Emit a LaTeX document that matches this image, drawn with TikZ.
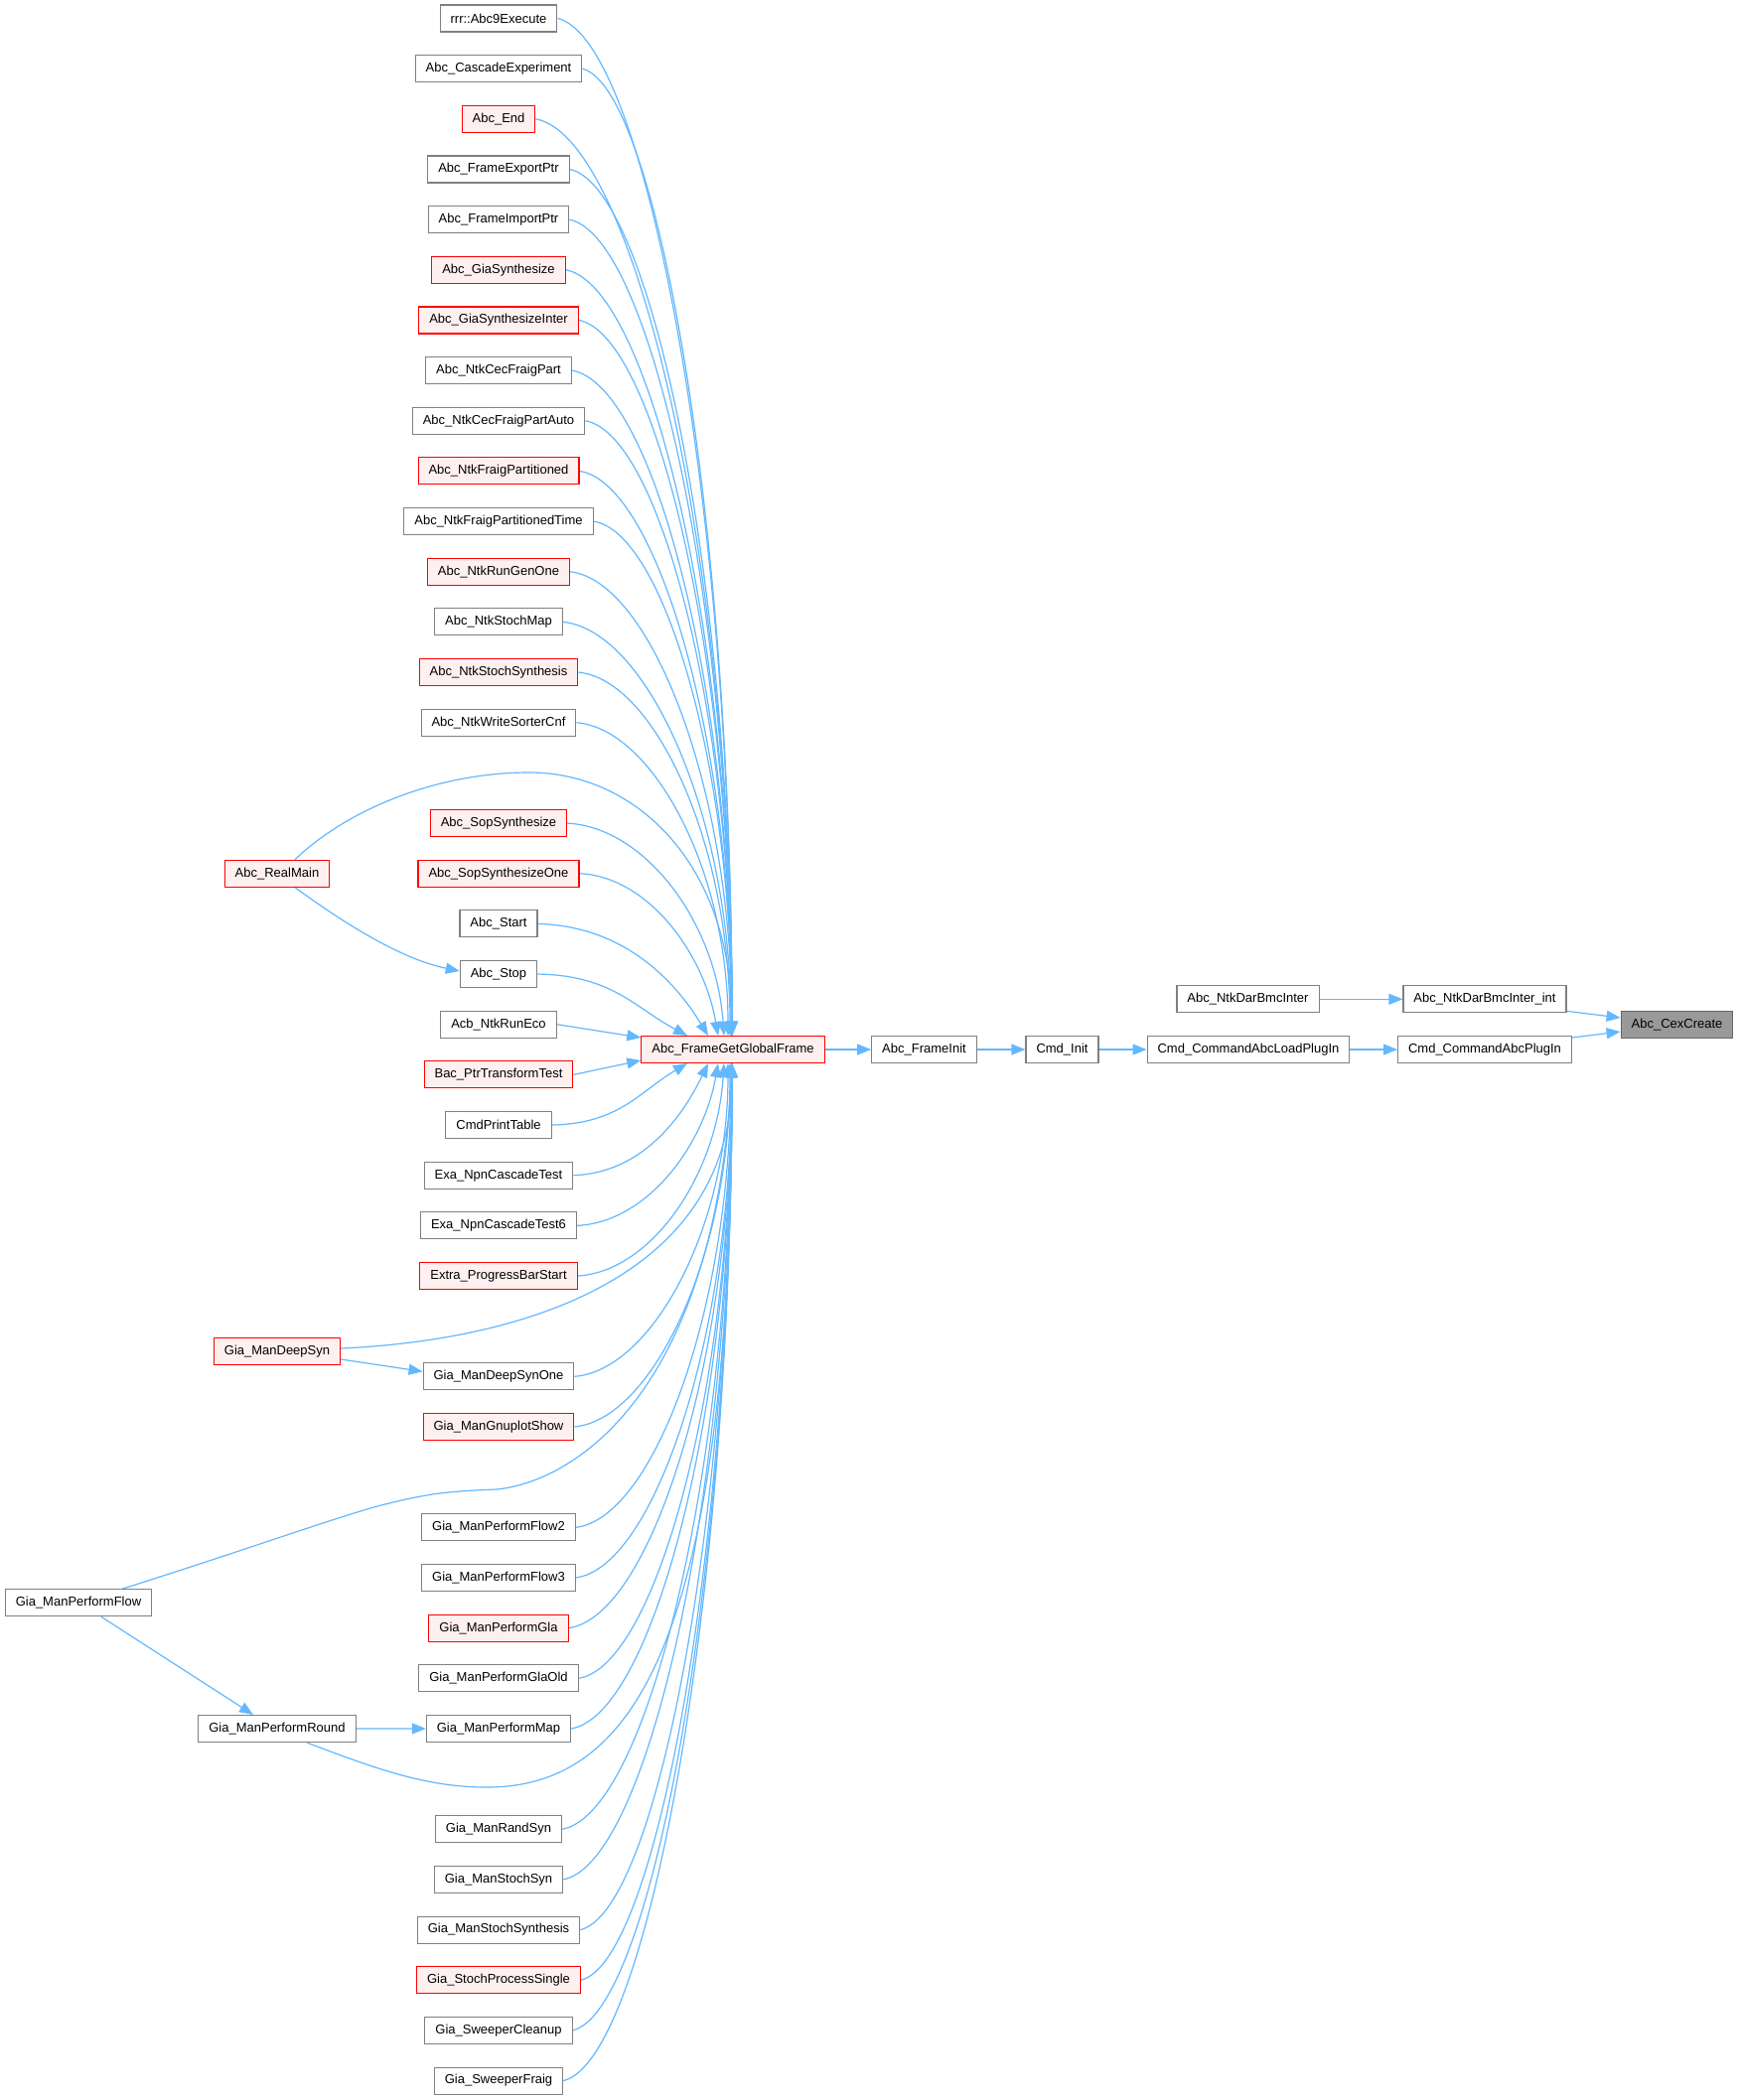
\documentclass[tikz,border=0pt]{standalone}
\usepackage{fontspec}
\setmainfont{Liberation Sans}
\usetikzlibrary{arrows.meta,calc}
\pgfdeclarelayer{bg}
\pgfdeclarelayer{edges}
\pgfsetlayers{bg,edges,main}
\definecolor{edgeblue}{HTML}{63B8FF}
\definecolor{nodegray}{HTML}{808080}
\definecolor{redfill}{HTML}{FFF0F0}
\definecolor{rootfill}{HTML}{999999}
\definecolor{rootdraw}{HTML}{666666}
\tikzset{
 base/.style={rectangle, font=\fontsize{13}{15}\selectfont, inner xsep=10.5pt, inner ysep=0pt, minimum height=27pt, line width=1.1pt},
 gbox/.style={base, draw=nodegray, fill=white},
 rbox/.style={base, draw=red, fill=redfill},
 rootbox/.style={base, draw=rootdraw, fill=rootfill},
 edge/.style={draw=edgeblue, line width=1.2pt, -{Triangle[length=14pt,width=11pt]}}
}
\begin{document}
\begin{tikzpicture}[x=1pt,y=-1pt]
\begin{pgfonlayer}{bg}
\fill[white] (0,0) rectangle (1751,2115);
\end{pgfonlayer}
\useasboundingbox (0,0) rectangle (1751,2115);

\node[rbox] (C) at (738,1057) {Abc\_FrameGetGlobalFrame};
\node[gbox] (FI) at (930.5,1057) {Abc\_FrameInit};
\node[gbox] (CI) at (1069.5,1057) {Cmd\_Init};
\node[gbox] (LP) at (1257,1057) {Cmd\_CommandAbcLoadPlugIn};
\node[gbox] (PI) at (1495,1057) {Cmd\_CommandAbcPlugIn};
\node[gbox] (BI) at (1256.5,1006.3) {Abc\_NtkDarBmcInter};
\node[gbox] (BII) at (1495,1006.3) {Abc\_NtkDarBmcInter\_int};
\node[rootbox] (CX) at (1688.5,1032) {Abc\_CexCreate};
\node[rbox] (RM) at (279,879.7) {Abc\_RealMain};
\node[rbox] (DS) at (279,1361) {Gia\_ManDeepSyn};
\node[gbox] (PF) at (79,1614.3) {Gia\_ManPerformFlow};
\node[gbox] (PR) at (279,1741) {Gia\_ManPerformRound};

\foreach \i/\lbl/\sty in {
0/rrr::Abc9Execute/gbox,
1/Abc\_CascadeExperiment/gbox,
2/Abc\_End/rbox,
3/Abc\_FrameExportPtr/gbox,
4/Abc\_FrameImportPtr/gbox,
5/Abc\_GiaSynthesize/rbox,
6/Abc\_GiaSynthesizeInter/rbox,
7/Abc\_NtkCecFraigPart/gbox,
8/Abc\_NtkCecFraigPartAuto/gbox,
9/Abc\_NtkFraigPartitioned/rbox,
10/Abc\_NtkFraigPartitionedTime/gbox,
11/Abc\_NtkRunGenOne/rbox,
12/Abc\_NtkStochMap/gbox,
13/Abc\_NtkStochSynthesis/rbox,
14/Abc\_NtkWriteSorterCnf/gbox,
16/Abc\_SopSynthesize/rbox,
17/Abc\_SopSynthesizeOne/rbox,
18/Abc\_Start/gbox,
19/Abc\_Stop/gbox,
20/Acb\_NtkRunEco/gbox,
21/Bac\_PtrTransformTest/rbox,
22/CmdPrintTable/gbox,
23/Exa\_NpnCascadeTest/gbox,
24/Exa\_NpnCascadeTest6/gbox,
25/Extra\_ProgressBarStart/rbox,
27/Gia\_ManDeepSynOne/gbox,
28/Gia\_ManGnuplotShow/rbox,
30/Gia\_ManPerformFlow2/gbox,
31/Gia\_ManPerformFlow3/gbox,
32/Gia\_ManPerformGla/rbox,
33/Gia\_ManPerformGlaOld/gbox,
34/Gia\_ManPerformMap/gbox,
36/Gia\_ManRandSyn/gbox,
37/Gia\_ManStochSyn/gbox,
38/Gia\_ManStochSynthesis/gbox,
39/Gia\_StochProcessSingle/rbox,
40/Gia\_SweeperCleanup/gbox,
41/Gia\_SweeperFraig/gbox}
 \node[\sty] (n\i) at (502,{18.5+50.66*\i}) {\lbl};

\begin{pgfonlayer}{edges}
% fan-in edges to the central node
\foreach \i/\anc/\dx/\k/\m in {
0/north/-1pt/0/.53, 1/north/-1pt/0/.53, 2/north/-1pt/0/.53, 3/north/-1pt/0/.53,
4/north/-1pt/0/.53, 5/north/-1pt/0/.53, 6/north/-1pt/0/.53, 7/north/-1pt/0/.53,
8/north/-1pt/0/.53, 9/north/-1pt/0/.53, 10/north/-1pt/0/.53, 11/north/-1pt/0/.53,
12/north/-2pt/0/.53, 13/north/-3pt/0/.53, 14/north/-5pt/0/.53,
16/north/-9pt/.05/.53, 17/north/-15pt/.1/.5, 18/north/-25pt/.2/.5, 19/north/-46pt/.35/.45,
22/south/-46pt/.35/.45, 23/south/-25pt/.2/.5, 24/south/-15pt/.1/.5, 25/south/-9pt/.05/.53,
27/south/-5pt/0/.53, 28/south/-3pt/0/.53, 30/south/-2pt/0/.53,
31/south/-1pt/0/.53, 32/south/-1pt/0/.53, 33/south/-1pt/0/.53, 34/south/-1pt/0/.53,
36/south/-1pt/0/.53, 37/south/-1pt/0/.53, 38/south/-1pt/0/.53, 39/south/-1pt/0/.53,
40/south/-1pt/0/.53, 41/south/-1pt/0/.53}
 \draw[edge] let \p1=(n\i.east), \p2=([xshift=\dx]C.\anc), \n1={\x2-\x1}, \n2={\y2-\y1} in
   (\p1) .. controls (\x1+0.5*\n1, \y1+0.02*\n2) and (\x2-\k*\n1, \y2-\m*\n2) .. (\p2);

\draw[edge] (n20.east) -- ([yshift=12pt]C.west);
\draw[edge] (n21.east) -- ([yshift=-11pt]C.west);

% left-column edges
\draw[edge] ([xshift=18pt]RM.north) .. controls (350,815) and (440,778) .. (533,778)
  .. controls (640,778) and (737,870) .. ([xshift=-1pt]C.north);
\draw[edge] ([xshift=18pt]RM.south) .. controls (340,925) and (400,965) .. ([yshift=3pt]n19.west);
\draw[edge] ([yshift=3pt]DS.east) .. controls (520,1350) and (737,1290) .. ([xshift=-1pt]C.south);
\draw[edge] ([yshift=-8pt]DS.east) -- ([yshift=5pt]n27.west);
\draw[edge] ([xshift=44pt]PF.north) .. controls (250,1560) and (330,1531) .. (380,1517)
  .. controls (430,1504) and (450,1502) .. (500,1500)
  .. controls (580,1492) and (720,1400) .. ([xshift=-1pt]C.south);
\draw[edge] ([xshift=23pt]PF.south) -- ([xshift=-24pt]PR.north);
\draw[edge] ([xshift=30pt]PR.south) .. controls (380,1782) and (430,1800) .. (490,1800)
  .. controls (640,1800) and (737,1650) .. ([xshift=-1pt]C.south);
\draw[edge] (PR.east) -- (n34.west);

% right chain
\draw[edge] (C.east) -- (FI.west);
\draw[edge] (FI.east) -- (CI.west);
\draw[edge] (CI.east) -- (LP.west);
\draw[edge] (LP.east) -- (PI.west);
\draw[edge] (BI.east) -- (BII.west);
\draw[edge] ([yshift=2pt]BII.south east) -- ([yshift=7pt]CX.west);
\draw[edge] ([yshift=-2pt]PI.north east) -- ([yshift=-7pt]CX.west);
\end{pgfonlayer}
\end{tikzpicture}
\end{document}
